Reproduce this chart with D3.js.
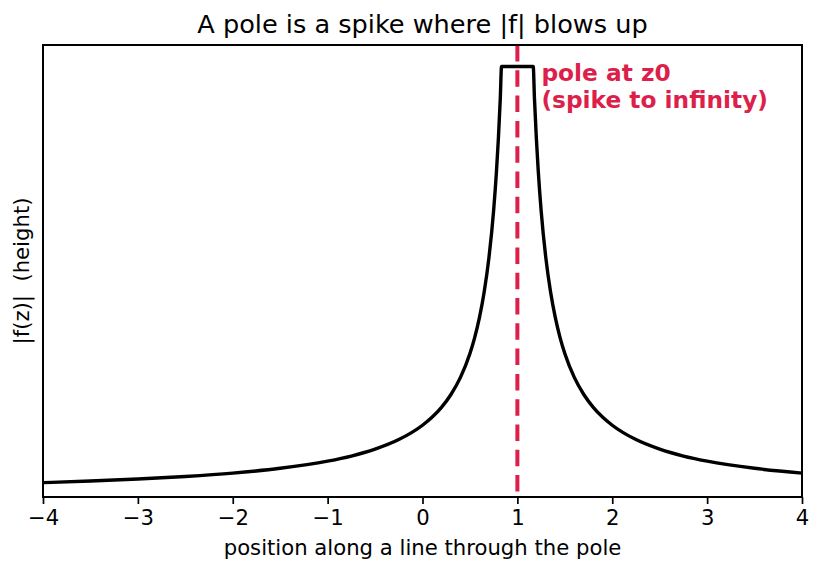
<!DOCTYPE html>
<html>
<head>
<meta charset="utf-8">
<script src="https://cdn.jsdelivr.net/npm/d3@7"></script>
<style>
  body { margin: 0; background: white; }
  text { font-family: "DejaVu Sans", sans-serif; }
</style>
</head>
<body>
<div id="chart"></div>
<script>
// values: |f| along the line, clipped at the top
let xs   = [-4, -3.5, -3, -2.5, -2, -1.5, -1, -0.75, -0.5, -0.25, 0, 0.1, 0.2, 0.3, 0.4, 0.5, 0.55, 0.6, 0.65, 0.7, 0.75, 0.78, 0.8, 0.82, 0.833,
            1.167, 1.18, 1.2, 1.22, 1.25, 1.3, 1.35, 1.4, 1.45, 1.5, 1.6, 1.7, 1.8, 1.9, 2, 2.25, 2.5, 2.75, 3, 3.5, 4];
let absF = [0.2, 0.222, 0.25, 0.286, 0.333, 0.4, 0.5, 0.571, 0.667, 0.8, 1.0, 1.111, 1.25, 1.429, 1.667, 2.0, 2.222, 2.5, 2.857, 3.333, 4.0, 4.545, 5.0, 5.556, 6.0,
            6.0, 5.556, 5.0, 4.545, 4.0, 3.333, 2.857, 2.5, 2.222, 2.0, 1.667, 1.429, 1.25, 1.111, 1.0, 0.8, 0.667, 0.571, 0.5, 0.4, 0.333];
let xTicks = [-4, -3, -2, -1, 0, 1, 2, 3, 4];
let poleX = 1;
let xDomain = [-4, 4];
let yDomain = [0, 6.3];

let width = 823;
let height = 573;
let padL = 43, padR = 802, padT = 45, padB = 497;
let red = "#dc1f4b";

let svg = d3.select("#chart").append("svg")
  .attr("width", width)
  .attr("height", height);

svg.append("rect")
  .attr("width", width).attr("height", height).attr("fill", "white");

let xScale = d3.scaleLinear().domain(xDomain).range([padL, padR]);
let yScale = d3.scaleLinear().domain(yDomain).range([padB, padT]);

let pts = xs.map((x, i) => [x, absF[i]]);

let line = d3.line()
  .x(d => xScale(d[0]))
  .y(d => yScale(d[1]))
  .curve(d3.curveMonotoneX);

svg.append("path")
  .datum(pts)
  .attr("d", line)
  .attr("fill", "none")
  .attr("stroke", "black")
  .attr("stroke-width", 3.4)
  .attr("stroke-linejoin", "round");

// pole marker
svg.append("line")
  .attr("x1", xScale(poleX)).attr("x2", xScale(poleX))
  .attr("y1", padT).attr("y2", padB)
  .attr("stroke", red)
  .attr("stroke-width", 4)
  .attr("stroke-dasharray", "16.5,8.8");

svg.append("text")
  .attr("x", xScale(poleX) + 24)
  .attr("y", 81)
  .attr("fill", red)
  .attr("font-weight", "bold")
  .attr("font-size", "23.3px")
  .text("pole at z0");

svg.append("text")
  .attr("x", xScale(poleX) + 24)
  .attr("y", 107.5)
  .attr("fill", red)
  .attr("font-weight", "bold")
  .attr("font-size", "23.3px")
  .text("(spike to infinity)");

// frame
svg.append("rect")
  .attr("x", padL).attr("y", padT)
  .attr("width", padR - padL).attr("height", padB - padT)
  .attr("fill", "none")
  .attr("stroke", "black")
  .attr("stroke-width", 2);

let xAxis = d3.axisBottom(xScale)
  .tickValues(xTicks)
  .tickFormat(d => d < 0 ? "\u2212" + Math.abs(d) : d)
  .tickSizeInner(7)
  .tickSizeOuter(0)
  .tickPadding(6);

let gx = svg.append("g")
  .attr("transform", `translate(0,${padB})`)
  .call(xAxis);
gx.select(".domain").remove();
gx.selectAll(".tick line").attr("stroke-width", 1.7);
gx.selectAll(".tick text")
  .attr("font-size", "21.2px")
  .attr("font-family", "DejaVu Sans")
  .attr("fill", "black");

svg.append("text")
  .attr("x", (padL + padR) / 2)
  .attr("y", 555)
  .attr("text-anchor", "middle")
  .attr("font-size", "21.2px")
  .text("position along a line through the pole");

svg.append("text")
  .attr("transform", `translate(29,${(padT + padB) / 2}) rotate(-90)`)
  .attr("text-anchor", "middle")
  .attr("font-size", "21.2px")
  .attr("xml:space", "preserve")
  .style("white-space", "pre")
  .text("|f(z)|  (height)");

svg.append("text")
  .attr("x", (padL + padR) / 2)
  .attr("y", 33)
  .attr("text-anchor", "middle")
  .attr("font-size", "25.6px")
  .text("A pole is a spike where |f| blows up");
</script>
</body>
</html>
